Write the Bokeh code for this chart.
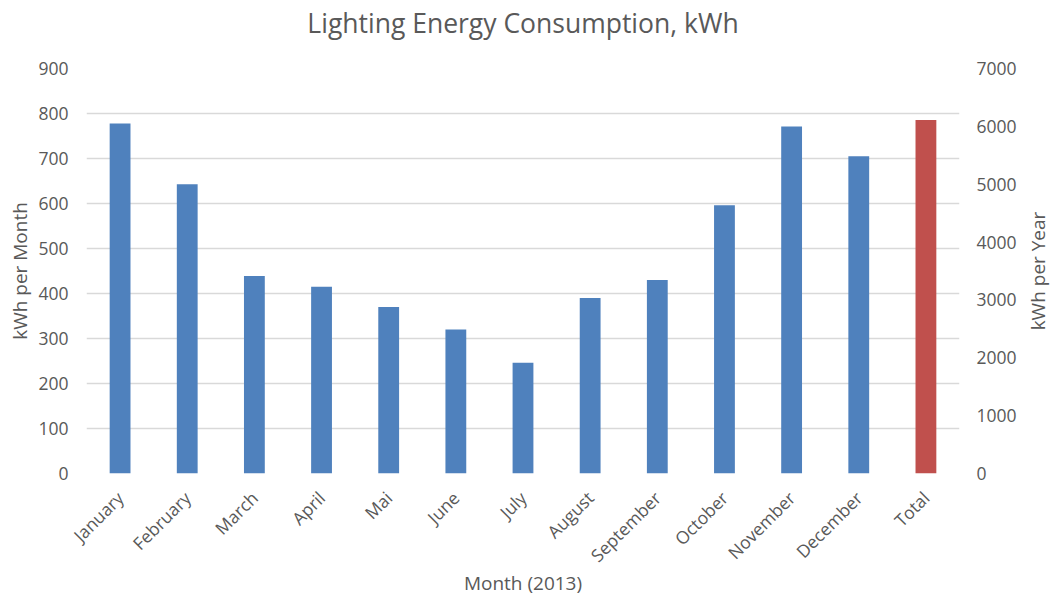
from math import pi
from bokeh.plotting import figure
from bokeh.layouts import row
from bokeh.models import LinearAxis, Range1d, FactorRange, ColumnDataSource, Title, FixedTicker
from bokeh.embed import file_html
from bokeh.resources import INLINE

months = ["January", "February", "March", "April", "Mai", "June", "July",
          "August", "September", "October", "November", "December"]
monthly_kwh = [778, 643, 439, 415, 370, 320, 246, 390, 430, 596, 771, 705]
total_label = "Total"
total_kwh = 6110

left_ticks = list(range(0, 901, 100))
right_ticks = list(range(0, 7001, 1000))

FONT = "Open Sans"
TXT = "#595959"
GRID = "#D9D9D9"
W, H = 1051, 599
W2 = 32                      # narrow strip carrying the right-hand axis title
W1 = W - W2
FL, FR, FT, FB = 86, 962, 68, 474  # frame edges on the page

cats = months + [total_label]
p = figure(x_range=FactorRange(*cats), y_range=Range1d(0, 900),
           width=W1, height=H, output_backend="svg", toolbar_location=None,
           min_border_left=FL, min_border_right=W1 - FR,
           min_border_top=FT, min_border_bottom=H - FB, title=None)
p.extra_y_ranges = {"year": Range1d(0, 7000)}
p.outline_line_color = None

src_m = ColumnDataSource(dict(x=months, y=monthly_kwh))
src_t = ColumnDataSource(dict(x=[total_label], y=[total_kwh]))
p.vbar(x="x", top="y", width=0.31, source=src_m, fill_color="#4F81BD", line_color=None)
p.vbar(x="x", top="y", width=0.31, source=src_t, fill_color="#C0504D", line_color=None,
       y_range_name="year")

# spacer (closest to the frame), then the real title above it
p.add_layout(Title(text=" ", text_font_size="1px", standoff=25), "above")
p.add_layout(Title(text="Lighting Energy Consumption, kWh", align="center",
                   text_font=FONT, text_font_size="26.5px", text_font_style="normal",
                   text_color=TXT, offset=0, standoff=0), "above")

ax_r = LinearAxis(y_range_name="year", ticker=right_ticks)
p.add_layout(ax_r, "right")

for ax in [p.yaxis[0], ax_r, p.xaxis[0]]:
    ax.axis_line_color = None
    ax.major_tick_line_color = None
    ax.minor_tick_line_color = None
    ax.major_tick_out = 0
    ax.major_tick_in = 0
    ax.minor_tick_out = 0
    ax.major_label_text_font = FONT
    ax.major_label_text_font_size = "17.5px"
    ax.major_label_text_color = TXT
    ax.axis_label_text_font = FONT
    ax.axis_label_text_font_size = "19px"
    ax.axis_label_text_font_style = "normal"
    ax.axis_label_text_color = TXT

yl = p.yaxis[0]
yl.ticker = left_ticks
yl.axis_label = "kWh per Month"
yl.major_label_standoff = 18
yl.axis_label_standoff = 2

ax_r.major_label_standoff = 17

xa = p.xaxis[0]
xa.axis_label = "Month (2013)"
xa.major_label_orientation = pi / 4
xa.major_label_standoff = 21
xa.axis_label_standoff = -8

p.xgrid.grid_line_color = None
p.ygrid.grid_line_color = GRID
p.ygrid.grid_line_width = 1.3

# narrow companion figure: its left axis title reads bottom to top, like the reference
p2 = figure(width=W2, height=H, output_backend="svg", toolbar_location=None,
            y_range=Range1d(0, 7000), x_range=Range1d(0, 1),
            min_border_left=W2 - 1, min_border_right=0,
            min_border_top=FT, min_border_bottom=H - FB, title=None)
p2.outline_line_color = None
p2.xgrid.grid_line_color = None
p2.ygrid.grid_line_color = None
p2.xaxis.visible = False
ya2 = p2.yaxis[0]
ya2.ticker = FixedTicker(ticks=[])
ya2.axis_line_color = None
ya2.major_tick_out = 0
ya2.major_tick_in = 0
ya2.minor_tick_out = 0
ya2.minor_tick_in = 0
ya2.major_label_standoff = 0
ya2.axis_label_standoff = 0
ya2.axis_label = "kWh per Year"
ya2.axis_label_text_font = FONT
ya2.axis_label_text_font_size = "19px"
ya2.axis_label_text_font_style = "normal"
ya2.axis_label_text_color = TXT

layout = row(p, p2, spacing=0)
open("out.html", "w").write(file_html(layout, INLINE))
